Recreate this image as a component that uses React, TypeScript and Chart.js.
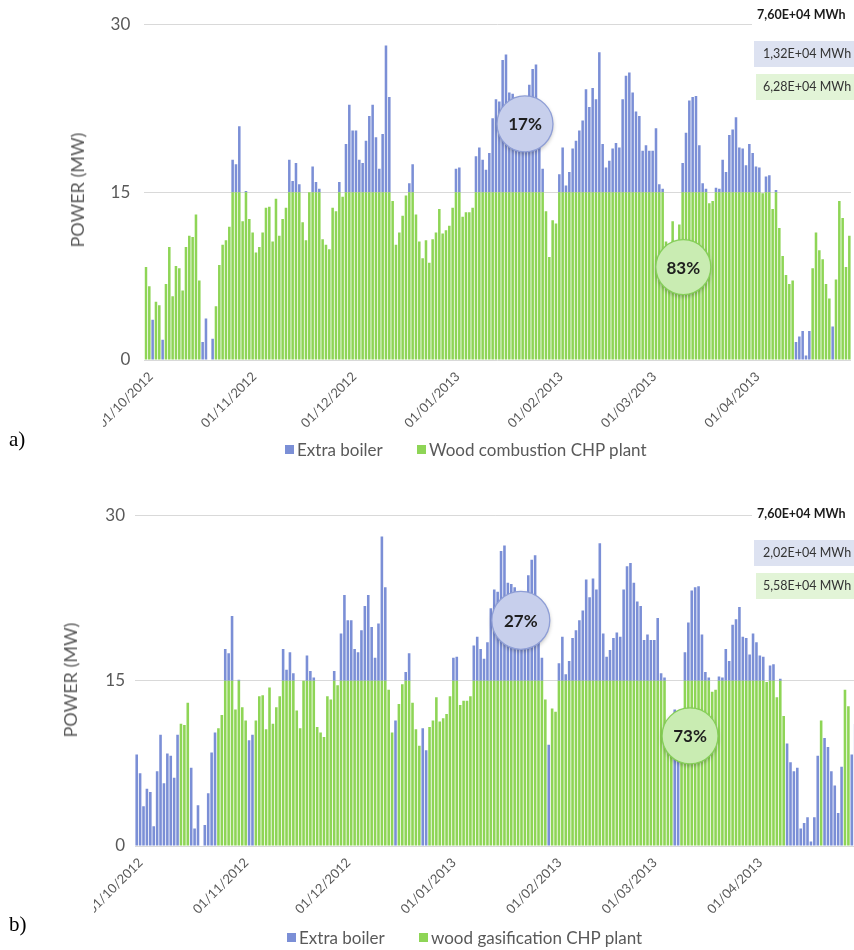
import React, { useEffect, useRef } from 'react';
import { Chart, registerables } from 'chart.js';

Chart.register(...registerables);

// ---------- categories & tick labels ----------
const DAY_COUNT = 212; // one bar per day starting 01/10/2012
const monthTicks = ['01/10/2012', '01/11/2012', '01/12/2012', '01/01/2013', '01/02/2013', '01/03/2013', '01/04/2013'];
const yTicks = [0, 15, 30];

// ---------- a) wood combustion CHP plant (MW, daily) ----------
const aPlant = [
  // Oct
  8.3, 6.6, 0, 5.2, 4.9, 0, 6.8, 10.1, 5.7, 8.4, 8.2, 6.2, 10.1, 11.1, 11.0, 13.0, 7.1, 0, 0, 0, 0, 4.8, 8.5, 10.3, 10.7, 11.9, 15, 15, 15, 12.4, 15,
  // Nov
  12.6, 11.4, 9.6, 10.1, 11.4, 13.6, 13.7, 10.6, 14.4, 11.1, 12.6, 13.6, 15, 15, 15, 15, 12.3, 10.7, 15, 15, 15, 15, 10.8, 10.3, 9.9, 13.6, 13.3, 15, 14.6, 15,
  // Dec
  15, 15, 15, 15, 15, 15, 15, 15, 15, 15, 15, 15, 15, 14.2, 10.3, 11.4, 12.9, 14.7, 15, 15, 13.0, 10.6, 9.1, 10.7, 8.7, 10.8, 11.4, 13.5, 11.3, 11.6, 12.0,
  // Jan
  13.6, 15, 15, 12.8, 13.2, 13.2, 13.6, 15, 15, 15, 15, 15, 15, 15, 15, 15, 15, 15, 15, 15, 15, 15, 15, 15, 15, 15, 15, 15, 13.3, 9.2, 12.5,
  // Feb
  12.2, 15, 15, 15, 15, 15, 15, 15, 15, 15, 15, 15, 15, 15, 15, 15, 15, 15, 15, 15, 15, 15, 15, 15, 15, 15, 15, 15,
  // Mar
  15, 15, 15, 15, 15, 10.6, 9.5, 12.4, 10.0, 12.1, 15, 15, 15, 15, 15, 15, 15, 15, 14.0, 14.2, 15, 15, 15, 15, 15, 15, 15, 15, 15, 15, 15,
  // Apr
  15, 15, 15, 14.9, 15, 15, 13.5, 15, 11.8, 9.3, 7.6, 6.8, 7.1, 0, 0, 0, 0, 0, 8.2, 11.4, 9.8, 9.0, 6.8, 5.5, 0, 7.2, 14.2, 12.7, 8.3, 11.1,
];
const aBoiler = [
  // Oct
  0, 0, 3.6, 0, 0, 1.8, 0, 0, 0, 0, 0, 0, 0, 0, 0, 0, 0, 1.6, 3.7, 0, 1.9, 0, 0, 0, 0, 0, 2.9, 2.5, 5.9, 0, 0.1,
  // Nov
  0, 0, 0, 0, 0, 0, 0, 0, 0, 0, 0, 0, 2.9, 1.0, 2.6, 0.7, 0, 0, 0, 2.3, 0.9, 0.3, 0, 0, 0, 0, 0, 0.9, 0, 4.3,
  // Dec
  7.8, 5.5, 5.5, 2.9, 2.6, 4.6, 6.8, 7.8, 4.9, 2.1, 5.2, 13.1, 8.5, 0, 0, 0, 0, 0, 0.8, 2.5, 0, 0, 0, 0, 0, 0, 0, 0, 0, 0, 0,
  // Jan
  0, 2.1, 2.2, 0, 0, 0, 0, 3.2, 4.0, 2.9, 2.0, 3.5, 6.6, 8.3, 8.1, 11.8, 12.3, 8.9, 8.8, 8.5, 6.5, 5.5, 7.5, 9.6, 11.0, 11.4, 5.0, 2.1, 0, 0, 0,
  // Feb
  0, 1.6, 4.0, 0.6, 1.8, 3.9, 4.6, 5.5, 6.4, 9.2, 7.6, 9.3, 8.3, 12.5, 4.3, 2.2, 2.8, 3.9, 4.4, 4.0, 8.3, 10.4, 10.7, 8.9, 7.2, 6.8, 3.7, 4.2,
  // Mar
  3.7, 3.7, 5.7, 0.7, 0.3, 0, 0, 0, 0, 0, 2.6, 5.3, 8.2, 8.5, 8.6, 4.2, 0.8, 0.3, 0, 0, 0.4, 0.3, 2.9, 1.8, 5.1, 5.6, 6.7, 4.0, 3.9, 2.4, 4.3,
  // Apr
  3.5, 2.3, 2.2, 0, 1.4, 1.5, 0, 0.2, 0, 0, 0, 0, 0, 1.6, 2.1, 2.6, 0.4, 2.6, 0, 0, 0, 0, 0, 0, 3.0, 0, 0, 0, 0, 0,
];

// ---------- b) wood gasification CHP plant (MW, daily) ----------
const bPlant = [
  // Oct
  0, 0, 0, 0, 0, 0, 0, 0, 0, 0, 0, 0, 0, 11.1, 11.0, 13.0, 0, 0, 0, 0, 0, 0, 0, 0, 10.7, 11.9, 15, 15, 15, 12.4, 15,
  // Nov
  12.6, 11.4, 0, 0, 11.4, 13.6, 13.7, 10.6, 14.4, 11.1, 12.6, 13.6, 15, 15, 15, 15, 12.3, 10.7, 15, 15, 15, 15, 10.8, 10.3, 9.9, 13.6, 13.3, 15, 14.6, 15,
  // Dec
  15, 15, 15, 15, 15, 15, 15, 15, 15, 15, 15, 15, 15, 14.2, 10.3, 0, 12.9, 14.7, 15, 15, 13.0, 10.6, 9.1, 0, 0, 10.8, 11.4, 13.5, 11.3, 11.6, 12.0,
  // Jan
  13.6, 15, 15, 12.8, 13.2, 13.2, 13.6, 15, 15, 15, 15, 15, 15, 15, 15, 15, 15, 15, 15, 15, 15, 15, 15, 15, 15, 15, 15, 15, 13.3, 0, 12.5,
  // Feb
  12.2, 15, 15, 15, 15, 15, 15, 15, 15, 15, 15, 15, 15, 15, 15, 15, 15, 15, 15, 15, 15, 15, 15, 15, 15, 15, 15, 15,
  // Mar
  15, 15, 15, 15, 15, 10.6, 9.5, 0, 0, 12.1, 15, 15, 15, 15, 15, 15, 15, 15, 14.0, 14.2, 15, 15, 15, 15, 15, 15, 15, 15, 15, 15, 15,
  // Apr
  15, 15, 15, 14.9, 15, 15, 13.5, 15, 11.8, 0, 0, 0, 0, 0, 0, 0, 0, 0, 0, 11.4, 0, 0, 0, 0, 0, 0, 14.2, 12.7, 0, 0,
];
const bBoiler = [
  // Oct
  8.3, 6.6, 3.6, 5.2, 4.9, 1.8, 6.8, 10.1, 5.7, 8.4, 8.2, 6.2, 10.1, 0, 0, 0, 7.1, 1.6, 3.7, 0, 1.9, 4.8, 8.5, 10.3, 0, 0, 2.9, 2.5, 5.9, 0, 0.1,
  // Nov
  0, 0, 9.6, 10.1, 0, 0, 0, 0, 0, 0, 0, 0, 2.9, 1.0, 2.6, 0.7, 0, 0, 0, 2.3, 0.9, 0.3, 0, 0, 0, 0, 0, 0.9, 0, 4.3,
  // Dec
  7.8, 5.5, 5.5, 2.9, 2.6, 4.6, 6.8, 7.8, 4.9, 2.1, 5.2, 13.1, 8.5, 0, 0, 11.4, 0, 0, 0.8, 2.5, 0, 0, 0, 10.7, 8.7, 0, 0, 0, 0, 0, 0,
  // Jan
  0, 2.1, 2.2, 0, 0, 0, 0, 3.2, 4.0, 2.9, 2.0, 3.5, 6.6, 8.3, 8.1, 11.8, 12.3, 8.9, 8.8, 8.5, 6.5, 5.5, 7.5, 9.6, 11.0, 11.4, 5.0, 2.1, 0, 9.2, 0,
  // Feb
  0, 1.6, 4.0, 0.6, 1.8, 3.9, 4.6, 5.5, 6.4, 9.2, 7.6, 9.3, 8.3, 12.5, 4.3, 2.2, 2.8, 3.9, 4.4, 4.0, 8.3, 10.4, 10.7, 8.9, 7.2, 6.8, 3.7, 4.2,
  // Mar
  3.7, 3.7, 5.7, 0.7, 0.3, 0, 0, 12.4, 10.0, 0, 2.6, 5.3, 8.2, 8.5, 8.6, 4.2, 0.8, 0.3, 0, 0, 0.4, 0.3, 2.9, 1.8, 5.1, 5.6, 6.7, 4.0, 3.9, 2.4, 4.3,
  // Apr
  3.5, 2.3, 2.2, 0, 1.4, 1.5, 0, 0.2, 0, 9.3, 7.6, 6.8, 7.1, 1.6, 2.1, 2.6, 0.4, 2.6, 8.2, 0, 9.8, 9.0, 6.8, 5.5, 3.0, 7.2, 0, 0, 8.3, 11.1,
];

// ---------- annotation texts ----------
const aTotals = ['7,60E+04 MWh', '1,32E+04 MWh', '6,28E+04 MWh'];
const bTotals = ['7,60E+04 MWh', '2,02E+04 MWh', '5,58E+04 MWh'];
const aShares = ['17%', '83%'];
const bShares = ['27%', '73%'];

const BLUE = '#7b8fd6';
const GREEN = '#8ed556';
const FONT = 'Lato, "Open Sans", "DejaVu Sans", sans-serif';

function makeDayLabels(): string[] {
  const out: string[] = [];
  for (let i = 0; i < DAY_COUNT; i++) {
    const dt = new Date(Date.UTC(2012, 9, 1 + i));
    const dd = String(dt.getUTCDate()).padStart(2, '0');
    const mm = String(dt.getUTCMonth() + 1).padStart(2, '0');
    out.push(`${dd}/${mm}/${dt.getUTCFullYear()}`);
  }
  return out;
}
const dayLabels = makeDayLabels();

type Bubble = { text: string; index: number; value: number; r: number; fill: string; stroke: string };
type Geo = {
  width: number; height: number; padTop: number; padRight: number;
  yWidth: number; xHeight: number; tickPad: number; xPad: number; clipX: number; labelOffset: number;
};

function Panel({ plant, boiler, plantLabel, geo, bubbles }: {
  plant: number[]; boiler: number[]; plantLabel: string; geo: Geo; bubbles: Bubble[];
}) {
  const ref = useRef<HTMLCanvasElement | null>(null);
  useEffect(() => {
    if (!ref.current) return;
    const overlay = {
      id: 'overlay',
      afterDraw(chart: any) {
        const { ctx, scales } = chart;
        const x = scales.x, y = scales.y;
        ctx.save();
        // crop first rotated label like the original chart frame
        ctx.fillStyle = '#ffffff';
        ctx.fillRect(0, chart.chartArea.bottom + 2, geo.clipX, 90);
        for (const b of bubbles) {
          const cx = x.getPixelForValue(b.index);
          const cy = y.getPixelForValue(b.value);
          ctx.save();
          ctx.shadowColor = 'rgba(0,0,0,0.28)';
          ctx.shadowBlur = 4;
          ctx.shadowOffsetY = 2;
          ctx.beginPath();
          ctx.arc(cx, cy, b.r, 0, Math.PI * 2);
          ctx.fillStyle = b.fill;
          ctx.fill();
          ctx.restore();
          ctx.beginPath();
          ctx.arc(cx, cy, b.r, 0, Math.PI * 2);
          ctx.lineWidth = 1.3;
          ctx.strokeStyle = b.stroke;
          ctx.stroke();
          ctx.fillStyle = '#1e1e1e';
          ctx.font = `bold 17px ${FONT}`;
          ctx.textAlign = 'center';
          ctx.textBaseline = 'middle';
          ctx.fillText(b.text, cx, cy + 1);
        }
        ctx.restore();
      },
    };
    const chart = new Chart(ref.current, {
      type: 'bar',
      data: {
        labels: dayLabels,
        datasets: [
          { label: plantLabel, data: plant, backgroundColor: GREEN, borderWidth: 0, barPercentage: 0.76, categoryPercentage: 1 },
          { label: 'Extra boiler', data: boiler, backgroundColor: BLUE, borderWidth: 0, barPercentage: 0.76, categoryPercentage: 1 },
        ],
      },
      options: {
        responsive: false,
        animation: false,
        events: [],
        layout: { padding: { top: geo.padTop, right: geo.padRight, left: 0, bottom: 0 } },
        plugins: { legend: { display: false }, tooltip: { enabled: false } },
        scales: {
          x: {
            stacked: true,
            grid: { display: false },
            border: { display: false },
            ticks: {
              autoSkip: false,
              minRotation: 45,
              maxRotation: 45,
              padding: geo.xPad,
              labelOffset: geo.labelOffset,
              color: '#595959',
              font: { size: 13, family: FONT },
              callback: (_v: any, i: number) => (monthTicks.includes(dayLabels[i]) ? dayLabels[i] : ''),
            },
            afterFit: (s: any) => { s.height = geo.xHeight; s.paddingLeft = 0; s.paddingRight = 0; },
          },
          y: {
            stacked: true,
            min: yTicks[0],
            max: yTicks[yTicks.length - 1],
            afterBuildTicks: (s: any) => { s.ticks = yTicks.map((v) => ({ value: v })); },
            ticks: { padding: geo.tickPad, color: '#595959', font: { size: 17, family: FONT } },
            grid: { color: '#d9d9d9', drawTicks: false, lineWidth: 1 },
            border: { display: false },
            afterFit: (s: any) => { s.width = geo.yWidth; s.paddingTop = 0; s.paddingBottom = 0; },
          },
        },
      },
      plugins: [overlay],
    } as any);
    return () => chart.destroy();
  }, []);
  return <canvas ref={ref} width={geo.width} height={geo.height} style={{ width: geo.width, height: geo.height, display: 'block' }} />;
}

const txt: React.CSSProperties = { position: 'absolute', fontFamily: FONT, color: '#595959', whiteSpace: 'nowrap', lineHeight: 1 };

function Totals({ top, texts }: { top: number; texts: string[] }) {
  return (
    <>
      <div style={{ position: 'absolute', left: 752, top: top - 12, width: 102, height: 25, background: '#fff' }} />
      <div style={{ ...txt, left: 757, top: top - 7, fontSize: 12.5, fontWeight: 700, color: '#1a1a1a' }}>{texts[0]}</div>
      <div style={{ position: 'absolute', left: 754, top: top + 25, width: 100, height: 26, background: '#dde2f1' }} />
      <div style={{ ...txt, left: 763, top: top + 32, fontSize: 12.5, color: '#333' }}>{texts[1]}</div>
      <div style={{ position: 'absolute', left: 756, top: top + 58, width: 98, height: 26, background: '#e2f4d7' }} />
      <div style={{ ...txt, left: 763, top: top + 65, fontSize: 12.5, color: '#333' }}>{texts[2]}</div>
    </>
  );
}

function Legend({ top, plantLabel, x1, x2 }: { top: number; plantLabel: string; x1: number; x2: number }) {
  return (
    <>
      <div style={{ position: 'absolute', left: x1, top: top - 5, width: 9, height: 9, background: BLUE }} />
      <div style={{ ...txt, left: x1 + 12, top: top - 9, fontSize: 17 }}>Extra boiler</div>
      <div style={{ position: 'absolute', left: x2, top: top - 5, width: 9, height: 9, background: GREEN }} />
      <div style={{ ...txt, left: x2 + 12, top: top - 9, fontSize: 17 }}>{plantLabel}</div>
    </>
  );
}

function YTitle({ x, y }: { x: number; y: number }) {
  return (
    <div style={{ ...txt, left: x, top: y, fontSize: 18, transform: 'translate(-50%, -50%) rotate(-90deg)' }}>POWER (MW)</div>
  );
}

export default function App() {
  const geoA: Geo = { width: 854, height: 470, padTop: 24.3, padRight: 3, yWidth: 144.3, xHeight: 110, tickPad: 14, xPad: 1, clipX: 103, labelOffset: 5 };
  const geoB: Geo = { width: 858, height: 480, padTop: 45.7, padRight: 1.1, yWidth: 135, xHeight: 104, tickPad: 10, xPad: 1, clipX: 94, labelOffset: 4 };
  const bubblesA: Bubble[] = [
    { text: aShares[0], index: 113.7, value: 21.1, r: 28, fill: '#c7cfec', stroke: '#8e9ed6' },
    { text: aShares[1], index: 161.2, value: 8.3, r: 27.5, fill: '#c9ecb2', stroke: '#86cf5a' },
  ];
  const bubblesB: Bubble[] = [
    { text: bShares[0], index: 112.8, value: 20.5, r: 29, fill: '#c7cfec', stroke: '#8e9ed6' },
    { text: bShares[1], index: 162.5, value: 10.0, r: 28, fill: '#c9ecb2', stroke: '#86cf5a' },
  ];
  return (
    <div style={{ position: 'absolute', left: 0, top: 0, width: 854, height: 950, overflow: 'hidden', background: '#fff' }}>
      <div style={{ position: 'absolute', left: 0, top: 0 }}>
        <Panel plant={aPlant} boiler={aBoiler} plantLabel="Wood combustion CHP plant" geo={geoA} bubbles={bubblesA} />
      </div>
      <div style={{ position: 'absolute', left: 0, top: 470 }}>
        <Panel plant={bPlant} boiler={bBoiler} plantLabel="wood gasification CHP plant" geo={geoB} bubbles={bubblesB} />
      </div>
      <Totals top={16} texts={aTotals} />
      <Totals top={515} texts={bTotals} />
      <YTitle x={77} y={190} />
      <YTitle x={70} y={680} />
      <Legend top={450} plantLabel="Wood combustion CHP plant" x1={285} x2={417} />
      <Legend top={938} plantLabel="wood gasification CHP plant" x1={287} x2={419} />
      <div style={{ position: 'absolute', left: 9, top: 427, fontFamily: '"Liberation Serif", "Times New Roman", serif', fontSize: 21, color: '#000' }}>a)</div>
      <div style={{ position: 'absolute', left: 9, top: 912, fontFamily: '"Liberation Serif", "Times New Roman", serif', fontSize: 21, color: '#000' }}>b)</div>
    </div>
  );
}
